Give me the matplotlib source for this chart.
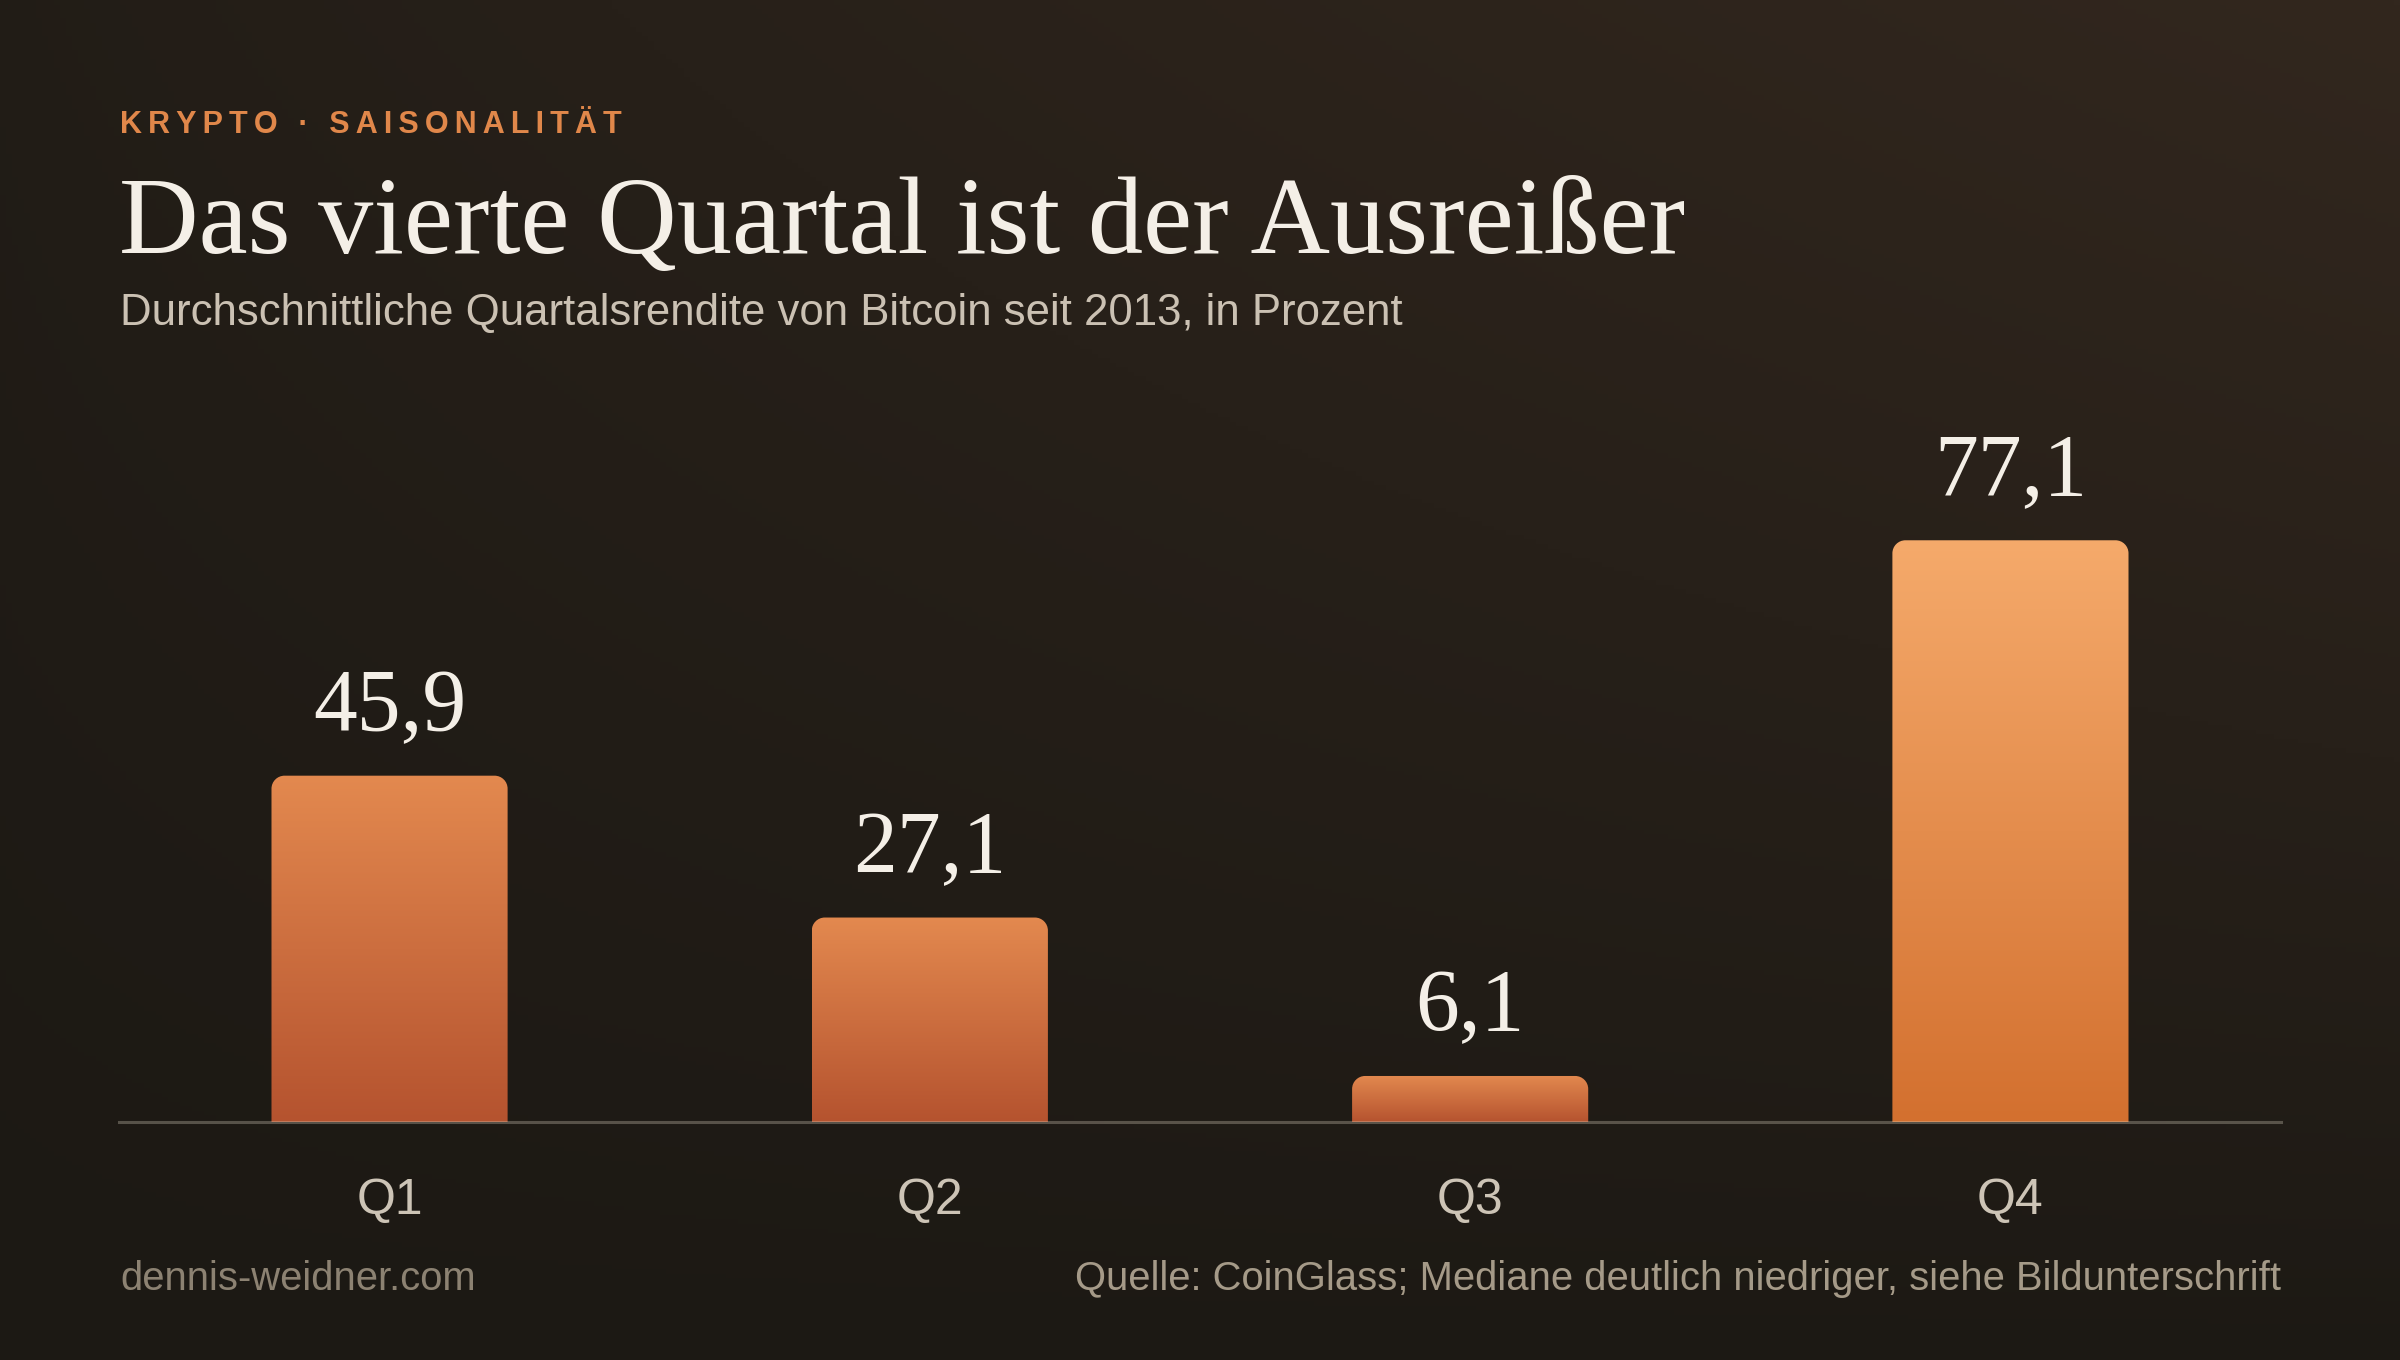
import numpy as np
import matplotlib
matplotlib.use("Agg")
import matplotlib.pyplot as plt
from matplotlib.colors import LinearSegmentedColormap
from matplotlib.path import Path
from matplotlib.patches import PathPatch

# data
quarters = ["Q1", "Q2", "Q3", "Q4"]
returns = [45.9, 27.1, 6.1, 77.1]
value_labels = ["45,9", "27,1", "6,1", "77,1"]

kicker = "KRYPTO · SAISONALITÄT"
title = "Das vierte Quartal ist der Ausreißer"
subtitle = "Durchschnittliche Quartalsrendite von Bitcoin seit 2013, in Prozent"
site = "dennis-weidner.com"
source = "Quelle: CoinGlass; Mediane deutlich niedriger, siehe Bildunterschrift"

plt.rcParams['font.family'] = ['Liberation Sans', 'DejaVu Sans']
SERIF = ['Liberation Serif', 'DejaVu Serif']

fig = plt.figure(figsize=(24, 13.6), dpi=100)

# background: dark with a warm glow towards the top right
bg = fig.add_axes([0, 0, 1, 1], zorder=-10)
yy, xx = np.mgrid[0:1:300j, 0:1:400j]
f = 0.75 * (xx * (1 - yy)) ** 0.8 + 0.25 * (1 - yy)
dark = np.array([28, 25, 20]) / 255
warm = np.array([50, 39, 30]) / 255
img = dark + f[..., None] * (warm - dark)
bg.imshow(img, aspect='auto', extent=(0, 1, 0, 1), origin='upper')
bg.set_axis_off()

ax = fig.add_axes([0.04975, 0.175, 0.9005, 0.4993])
ax.set_facecolor('none')
x = np.arange(len(quarters))
ax.set_xlim(-0.5, len(quarters) - 0.5)
ax.set_ylim(0, 90)
ax.autoscale(False)

bars = ax.bar(x, returns, width=0.437, color='none', edgecolor='none')

# pixel size of one data unit, for round corners
p0 = ax.transData.transform((0, 0))
p1 = ax.transData.transform((1, 1))
r_px = 13
rx = r_px / (p1[0] - p0[0])
ry = r_px / (p1[1] - p0[1])
k = 0.5523

normal_cmap = LinearSegmentedColormap.from_list('n', ['#b5532f', '#e3894f'])
high_cmap = LinearSegmentedColormap.from_list('h', ['#d3702f', '#f5aa6b'])
grad = np.linspace(0, 1, 256).reshape(-1, 1)

for rect, v in zip(bars, returns):
    x0 = rect.get_x()
    x1 = x0 + rect.get_width()
    y0 = 0
    y1 = rect.get_height()
    verts = [(x0, y0), (x0, y1 - ry),
             (x0, y1 - ry + k * ry), (x0 + rx - k * rx, y1), (x0 + rx, y1),
             (x1 - rx, y1),
             (x1 - rx + k * rx, y1), (x1, y1 - ry + k * ry), (x1, y1 - ry),
             (x1, y0), (x0, y0)]
    codes = [Path.MOVETO, Path.LINETO,
             Path.CURVE4, Path.CURVE4, Path.CURVE4,
             Path.LINETO,
             Path.CURVE4, Path.CURVE4, Path.CURVE4,
             Path.LINETO, Path.CLOSEPOLY]
    clip = PathPatch(Path(verts, codes), facecolor='none', edgecolor='none')
    ax.add_patch(clip)
    cmap = high_cmap if v == max(returns) else normal_cmap
    im = ax.imshow(grad, extent=(x0, x1, y0, y1), origin='lower', cmap=cmap,
                   aspect='auto', zorder=2)
    im.set_clip_path(clip)

for xi, v, lab in zip(x, returns, value_labels):
    ax.annotate(lab, (xi, v), xytext=(0, 33), textcoords='offset points',
                ha='center', va='baseline', fontsize=63, family=SERIF,
                color='#f4efe7')

ax.axhline(0, color=(0.88, 0.84, 0.77, 0.3), lw=2.2, zorder=3, clip_on=False)

ax.set_xlim(-0.5, len(quarters) - 0.5)
ax.set_ylim(0, 90)
ax.set_xticks(x, quarters)
ax.set_yticks([])
ax.tick_params(axis='x', length=0, pad=40, labelsize=36, labelcolor='#cdc4b6')
for s in ax.spines.values():
    s.set_visible(False)

# header (thin spaces for the letter spacing of the kicker)
fig.text(0.05, 0.902, "\u2009".join(kicker), fontsize=22, fontweight='bold',
         color='#e0874a', va='baseline')
fig.text(0.0495, 0.814, title, family=SERIF, fontsize=79.5, color='#f4efe7',
         va='baseline')
fig.text(0.05, 0.761, subtitle, fontsize=31.5, color='#cbc1b3', va='baseline')

# footer
fig.text(0.05, 0.0515, site, fontsize=28.8, color='#8c8272', va='baseline')
fig.text(0.9503, 0.0515, source, fontsize=28.8, color='#a59a88', ha='right',
         va='baseline')

fig.savefig('out.png', dpi=100)
